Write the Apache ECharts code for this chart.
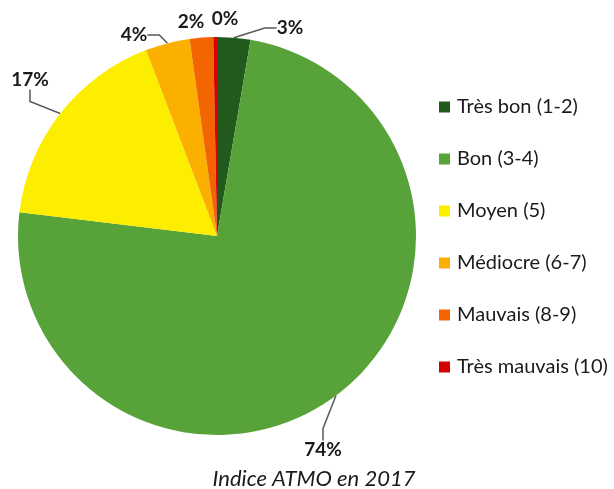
<!DOCTYPE html>
<html>
<head>
<meta charset="UTF-8">
<title>Indice ATMO en 2017</title>
<script src="https://cdn.jsdelivr.net/npm/echarts@6/dist/echarts.min.js"></script>
<style>
  html, body { margin: 0; padding: 0; background: #fff; }
  #main { width: 614px; height: 489px; }
</style>
</head>
<body>
<div id="main"></div>
<script>
  // données
  let categories = ['Très bon (1-2)', 'Bon (3-4)', 'Moyen (5)', 'Médiocre (6-7)', 'Mauvais (8-9)', 'Très mauvais (10)'];
  let values = [2.7, 74.2, 17.3, 3.6, 1.9, 0.3];
  let colors = ['#215a1c', '#58a23a', '#fdee00', '#fbb000', '#f26500', '#d40000'];
  // position des étiquettes (centre du texte)
  let labelX = [290, 323, 30, 134, 191, 225];
  let labelY = [28, 450, 80, 35, 22, 19];
  let showLine = [true, true, true, true, false, false];

  let mydata = [];
  for (let i = 0; i < categories.length; i++) {
    mydata.push({
      name: categories[i],
      value: values[i],
      itemStyle: { color: colors[i] },
      labelLine: { show: showLine[i] }
    });
  }

  let myChart = echarts.init(document.getElementById('main'));
  myChart.setOption({
    animation: false,
    title: {
      text: 'Indice ATMO en 2017',
      left: 309,
      textAlign: 'center',
      top: 463,
      textStyle: { fontFamily: 'Lato', fontStyle: 'italic', fontWeight: 'normal', fontSize: 22, color: '#1a1a1a' }
    },
    legend: {
      orient: 'vertical',
      left: 439,
      top: 97,
      padding: 0,
      itemWidth: 11,
      itemHeight: 11,
      itemGap: 32,
      icon: 'rect',
      data: categories,
      textStyle: { fontFamily: 'Lato', fontSize: 20, lineHeight: 20, color: '#1a1a1a', padding: [0, 0, 0, 2] }
    },
    series: [{
      type: 'pie',
      center: [217, 236],
      radius: 199,
      startAngle: 90,
      clockwise: true,
      data: mydata,
      label: {
        show: true,
        position: 'outside',
        overflow: 'none',
        formatter: p => Math.round(p.value) + '%',
        fontFamily: 'Lato',
        fontWeight: 'bold',
        fontSize: 19,
        color: '#1a1a1a'
      },
      labelLine: {
        show: true,
        length: 10,
        length2: 12,
        lineStyle: { color: '#595959', width: 1.5 }
      },
      labelLayout: p => ({
        x: labelX[p.dataIndex],
        y: labelY[p.dataIndex],
        width: 60,
        align: 'center',
        verticalAlign: 'middle'
      })
    }]
  });
</script>
</body>
</html>
